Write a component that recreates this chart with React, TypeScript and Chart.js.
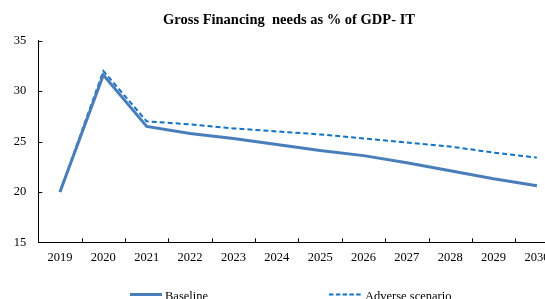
import React, { useEffect, useRef } from 'react';
import { Chart, registerables } from 'chart.js';

Chart.register(...registerables);

const titleText = 'Gross Financing  needs as % of GDP- IT';
const years = ['2019', '2020', '2021', '2022', '2023', '2024', '2025', '2026', '2027', '2028', '2029', '2030'];
const baseline = [20.0, 31.6, 26.5, 25.8, 25.3, 24.7, 24.1, 23.6, 22.9, 22.1, 21.3, 20.6];
const adverse = [20.0, 32.0, 27.0, 26.7, 26.3, 26.0, 25.7, 25.3, 24.9, 24.5, 23.9, 23.4];
const seriesNames = ['Baseline', 'Adverse scenario'];
const yMin = 15;
const yMax = 35;
const yStep = 5;

const FONT = '"Liberation Serif", "Times New Roman", serif';
const BASE_COLOR = '#4A7EBB';
const ADV_COLOR = '#1172C6';

const decorPlugin = {
  id: 'decor',
  afterDraw(chart: any) {
    const { ctx, chartArea } = chart;
    const y = chart.scales.y;
    ctx.save();
    // inside ticks
    ctx.strokeStyle = '#000';
    ctx.lineWidth = 1;
    const n = years.length;
    const bw = (chartArea.right - chartArea.left) / n;
    for (let i = 1; i <= n; i++) {
      const px = Math.round(chartArea.left + i * bw) + 0.5;
      ctx.beginPath();
      ctx.moveTo(px, chartArea.bottom);
      ctx.lineTo(px, chartArea.bottom - 4);
      ctx.stroke();
    }
    for (let v = yMin + yStep; v <= yMax; v += yStep) {
      const py = Math.round(y.getPixelForValue(v)) + 0.5;
      ctx.beginPath();
      ctx.moveTo(chartArea.left, py);
      ctx.lineTo(chartArea.left + 4, py);
      ctx.stroke();
    }
    // title
    ctx.fillStyle = '#000';
    ctx.font = 'bold 14.5px ' + FONT;
    ctx.textAlign = 'center';
    ctx.textBaseline = 'middle';
    ctx.fillText(titleText, 289, 20);
    // legend
    ctx.font = '12.5px ' + FONT;
    ctx.textAlign = 'left';
    ctx.textBaseline = 'alphabetic';
    const ly = 294.5;
    ctx.strokeStyle = BASE_COLOR;
    ctx.lineWidth = 3;
    ctx.beginPath();
    ctx.moveTo(130, ly);
    ctx.lineTo(162, ly);
    ctx.stroke();
    ctx.fillText(seriesNames[0], 165, 300);
    ctx.strokeStyle = ADV_COLOR;
    ctx.lineWidth = 2;
    ctx.setLineDash([4.5, 2.3]);
    ctx.beginPath();
    ctx.moveTo(329, ly);
    ctx.lineTo(361, ly);
    ctx.stroke();
    ctx.setLineDash([]);
    ctx.fillText(seriesNames[1], 365, 300);
    ctx.restore();
  },
};

export default function App() {
  const ref = useRef<HTMLCanvasElement>(null);
  useEffect(() => {
    if (!ref.current) return;
    const chart = new Chart(ref.current, {
      type: 'line',
      data: {
        labels: years,
        datasets: [
          {
            label: seriesNames[0],
            data: baseline,
            borderColor: BASE_COLOR,
            backgroundColor: BASE_COLOR,
            borderWidth: 3,
            pointRadius: 0,
            tension: 0,
          },
          {
            label: seriesNames[1],
            data: adverse,
            borderColor: ADV_COLOR,
            backgroundColor: ADV_COLOR,
            borderWidth: 2,
            borderDash: [5, 3],
            pointRadius: 0,
            tension: 0,
          },
        ],
      },
      options: {
        responsive: false,
        animation: false,
        layout: { padding: { left: 0, right: 41.4, top: 40.7, bottom: 37.7 } },
        plugins: {
          legend: { display: false },
          title: { display: false },
          tooltip: { enabled: false },
        },
        scales: {
          x: {
            offset: true,
            grid: { display: false, drawTicks: false },
            border: { display: true, color: '#000', width: 1 },
            ticks: { color: '#000', font: { family: FONT, size: 12.5 }, padding: 8, maxRotation: 0, autoSkip: false },
            afterFit: (s: any) => { s.height = 30; },
          },
          y: {
            min: yMin,
            max: yMax,
            grid: { display: false, drawTicks: false },
            border: { display: true, color: '#000', width: 1 },
            ticks: { stepSize: yStep, color: '#000', font: { family: FONT, size: 12.5 }, padding: 12 },
            afterFit: (s: any) => { s.width = 38.3; },
          },
        },
      },
      plugins: [decorPlugin],
    });
    return () => chart.destroy();
  }, []);
  return (
    <div style={{ position: 'fixed', left: 0, top: 0, width: 545, height: 299, overflow: 'hidden', background: '#fff' }}>
      <canvas ref={ref} width={600} height={310} style={{ display: 'block', width: 600, height: 310 }} />
    </div>
  );
}
